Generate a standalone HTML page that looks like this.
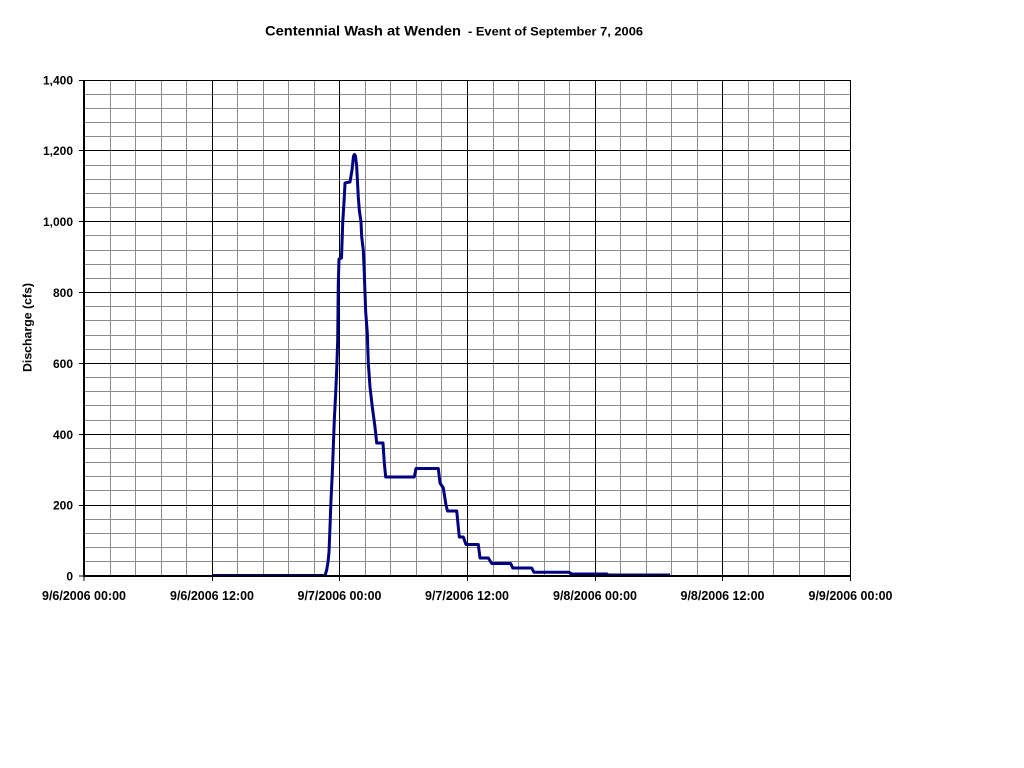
<!DOCTYPE html>
<html>
<head>
<meta charset="utf-8">
<style>
html,body{margin:0;padding:0;background:#fff;}
svg{display:block;}
text{font-family:"Liberation Sans",Arial,sans-serif;font-weight:bold;fill:#000;}
</style>
</head>
<body>
<svg width="1024" height="768" viewBox="0 0 1024 768" xmlns="http://www.w3.org/2000/svg">
<rect x="0" y="0" width="1024" height="768" fill="#fff"/>

<!-- Title -->
<text x="265" y="35.5" font-size="13.5" textLength="196" lengthAdjust="spacingAndGlyphs">Centennial Wash at Wenden</text>
<text x="468" y="35.5" font-size="11.5" textLength="175" lengthAdjust="spacingAndGlyphs">- Event of September 7, 2006</text>

<!-- minor horizontal gridlines -->
<g stroke="#8c8c8c" stroke-width="1" fill="none">
<path d="M84 561.5H850M84 547.5H850M84 533.5H850M84 519.5H850
M84 490.5H850M84 476.5H850M84 462.5H850M84 448.5H850
M84 420.5H850M84 405.5H850M84 391.5H850M84 377.5H850
M84 349.5H850M84 335.5H850M84 320.5H850M84 306.5H850
M84 278.5H850M84 264.5H850M84 250.5H850M84 235.5H850
M84 207.5H850M84 193.5H850M84 179.5H850M84 165.5H850
M84 136.5H850M84 122.5H850M84 108.5H850M84 94.5H850"/>
<path d="M110.5 80V576M135.5 80V576M161.5 80V576M186.5 80V576
M237.5 80V576M263.5 80V576M288.5 80V576M314.5 80V576
M365.5 80V576M390.5 80V576M416.5 80V576M441.5 80V576
M493.5 80V576M518.5 80V576M544.5 80V576M569.5 80V576
M620.5 80V576M646.5 80V576M671.5 80V576M697.5 80V576
M748.5 80V576M773.5 80V576M799.5 80V576M824.5 80V576"/>
</g>

<!-- major gridlines -->
<g stroke="#000" stroke-width="1" fill="none">
<path d="M84 505.5H850M84 434.5H850M84 363.5H850M84 292.5H850M84 221.5H850M84 150.5H850M84 80.5H850"/>
<path d="M212.5 80V576M339.5 80V576M467.5 80V576M595.5 80V576M722.5 80V576M850.5 80V576"/>
</g>

<!-- data series -->
<polyline fill="none" stroke="#000080" stroke-width="3" stroke-linejoin="round" stroke-linecap="butt"
points="212,575.5 325,575.5 326.7,570 328,562 329,552 330,527 331,500 332.3,473 333.3,447 334.3,420 335.7,393 336.7,370 337.7,340 338.3,283 339,259 341.5,258 342.7,223 344.3,197 345,183 350,182 352,170 353.5,156 354.5,154.5 355.5,156 356.7,167 358.3,197 359.3,210 361,222 361.7,237 363.3,250 364.3,273 365,293 365.7,312 367.3,333 368.3,363 370,387 372.3,407 375,427 376.7,443 383,443 384.3,463 385.7,477 414.3,477 416,468.5 438.3,468.5 440,483 443.3,488 446,505 447.5,511 456.7,511 459.3,537 463.3,537 466,544.5 478.3,544.5 480,558 488.3,558 491.7,563.5 510.7,563.5 512.7,568 531.7,568 534,572.3 569,572.3 571.7,574 607,574 608,575 670,575"/>
<polyline fill="none" stroke="#000080" stroke-width="1" points="670,575.5 722,575.5"/>

<!-- axes -->
<rect x="83" y="80" width="2" height="497" fill="#000"/>
<rect x="83" y="575" width="768" height="2" fill="#000"/>
<g stroke="#000" stroke-width="1" fill="none">
<!-- y ticks -->
<path d="M79 80.5H84M79 150.5H84M79 221.5H84M79 292.5H84M79 363.5H84M79 434.5H84M79 505.5H84M79 576H84"/>
<!-- x ticks -->
<path d="M84 576V581M212.5 576V581M339.5 576V581M467.5 576V581M595.5 576V581M722.5 576V581M850.5 576V581"/>
</g>

<!-- y tick labels -->
<g font-size="12" text-anchor="end">
<text x="73" y="84.5">1,400</text>
<text x="73" y="155">1,200</text>
<text x="73" y="226">1,000</text>
<text x="73" y="297">800</text>
<text x="73" y="368">600</text>
<text x="73" y="439">400</text>
<text x="73" y="509.5">200</text>
<text x="73" y="580.5">0</text>
</g>

<!-- x tick labels -->
<g font-size="12.5" text-anchor="middle">
<text x="84" y="600" textLength="84" lengthAdjust="spacingAndGlyphs">9/6/2006 00:00</text>
<text x="212" y="600" textLength="84" lengthAdjust="spacingAndGlyphs">9/6/2006 12:00</text>
<text x="339.5" y="600" textLength="84" lengthAdjust="spacingAndGlyphs">9/7/2006 00:00</text>
<text x="467" y="600" textLength="84" lengthAdjust="spacingAndGlyphs">9/7/2006 12:00</text>
<text x="595" y="600" textLength="84" lengthAdjust="spacingAndGlyphs">9/8/2006 00:00</text>
<text x="722.5" y="600" textLength="84" lengthAdjust="spacingAndGlyphs">9/8/2006 12:00</text>
<text x="850.5" y="600" textLength="84" lengthAdjust="spacingAndGlyphs">9/9/2006 00:00</text>
</g>

<!-- y axis title -->
<text transform="translate(31.5,327.5) rotate(-90)" font-size="12" text-anchor="middle" textLength="89" lengthAdjust="spacingAndGlyphs">Discharge (cfs)</text>
</svg>
</body>
</html>
